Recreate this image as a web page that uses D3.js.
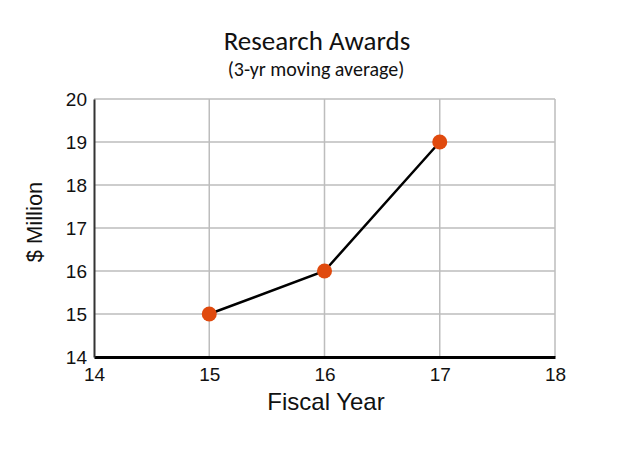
<!DOCTYPE html>
<html><head><meta charset="utf-8">
<script src="https://cdn.jsdelivr.net/npm/d3@7"></script>
<style>body{margin:0;background:#fff}svg{display:block}</style>
</head><body>
<svg id="c" width="626" height="449"></svg>
<script>
const years = [15, 16, 17];
const values = [15, 16, 19];
const xTicks = [14, 15, 16, 17, 18];
const yTicks = [14, 15, 16, 17, 18, 19, 20];
const title = "Research Awards";
const subtitle = "(3-yr moving average)";
const xTitle = "Fiscal Year";
const yTitle = "$ Million";

const svg = d3.select("#c");
const L = 94, R = 555, T = 99, B = 357;
const x = d3.scaleLinear().domain([14, 18]).range([L, R]);
const y = d3.scaleLinear().domain([14, 20]).range([B, T]);

const grid = svg.append("g");
grid.selectAll("line.v").data(xTicks.slice(1)).join("line")
  .attr("x1", d => x(d)).attr("x2", d => x(d)).attr("y1", T).attr("y2", B)
  .attr("stroke", "#bdbdbd").attr("stroke-width", 1.5);
grid.selectAll("line.h").data(yTicks.slice(1)).join("line")
  .attr("x1", L).attr("x2", R).attr("y1", d => y(d)).attr("y2", d => y(d))
  .attr("stroke", "#bdbdbd").attr("stroke-width", 1.5);

const xAxis = svg.append("g").attr("transform", `translate(0,${B})`)
  .call(d3.axisBottom(x).tickValues(xTicks).tickSize(0).tickPadding(11).tickFormat(d3.format("d")));
xAxis.select(".domain").attr("stroke", "#000").attr("stroke-width", 3);
xAxis.selectAll("text").style("font-family", "Liberation Sans, Arial, sans-serif").style("font-size", "19px").attr("fill", "#111");

const yAxis = svg.append("g").attr("transform", `translate(${L},0)`)
  .call(d3.axisLeft(y).tickValues(yTicks).tickSize(0).tickPadding(7).tickFormat(d3.format("d")));
yAxis.select(".domain").attr("stroke", "#333").attr("stroke-width", 2);
yAxis.selectAll("text").style("font-family", "Liberation Sans, Arial, sans-serif").style("font-size", "19px").attr("fill", "#111");

const pts = years.map((d, i) => [d, values[i]]);
svg.append("path").datum(pts)
  .attr("d", d3.line().x(d => x(d[0])).y(d => y(d[1])))
  .attr("fill", "none").attr("stroke", "#000").attr("stroke-width", 2.5);
svg.selectAll("circle").data(pts).join("circle")
  .attr("cx", d => x(d[0])).attr("cy", d => y(d[1])).attr("r", 7.5)
  .attr("fill", "#e04a0e");

svg.append("text").attr("x", 317).attr("y", 50).attr("text-anchor", "middle")
  .attr("font-family", "Carlito, Lato, 'Open Sans', sans-serif").attr("font-size", 27).attr("fill", "#111").text(title);
svg.append("text").attr("x", 316).attr("y", 76).attr("text-anchor", "middle")
  .attr("font-family", "Carlito, Lato, 'Open Sans', sans-serif").attr("font-size", 20).attr("fill", "#111").text(subtitle);
svg.append("text").attr("x", 326).attr("y", 410).attr("text-anchor", "middle")
  .attr("font-family", "Liberation Sans, Arial, sans-serif").attr("font-size", 24).attr("fill", "#111").text(xTitle);
svg.append("text").attr("transform", "translate(42,222) rotate(-90)").attr("text-anchor", "middle")
  .attr("font-family", "Liberation Sans, Arial, sans-serif").attr("font-size", 22).attr("fill", "#111").text(yTitle);
</script>
</body></html>
